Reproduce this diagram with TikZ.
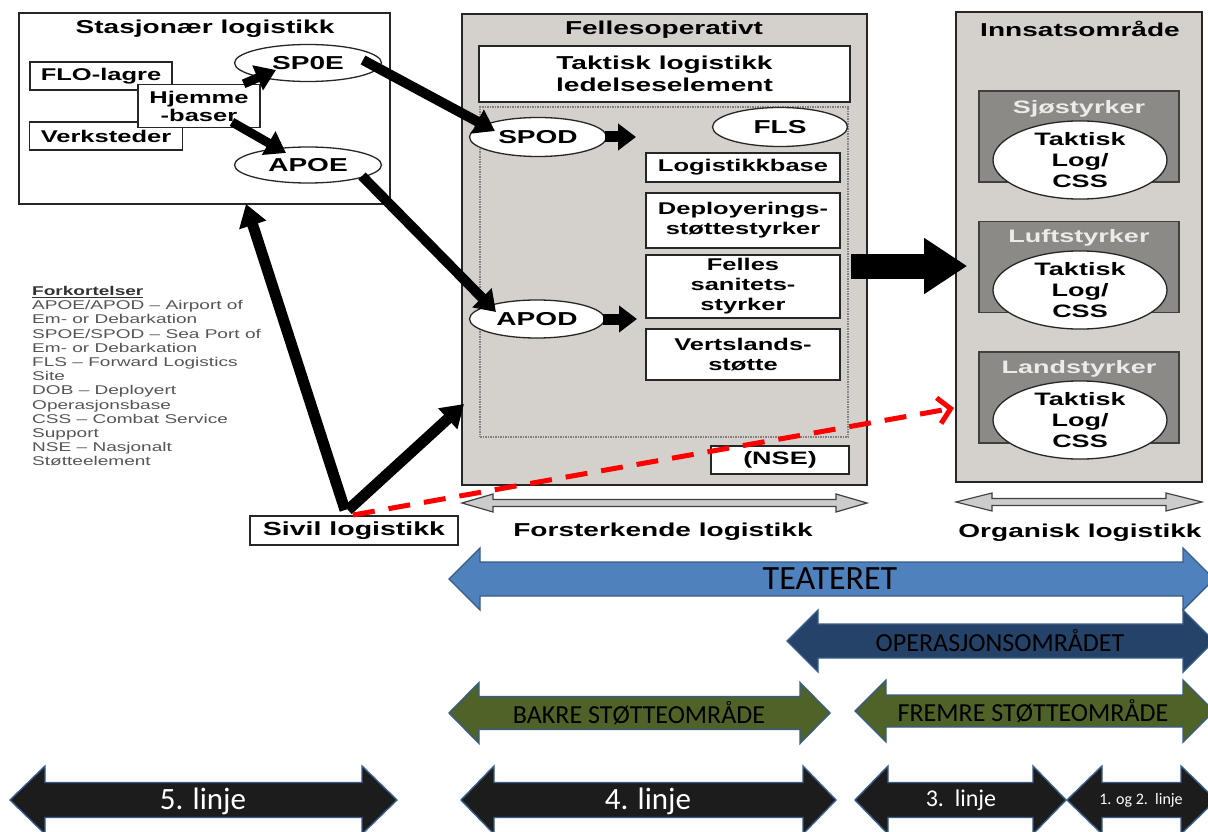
\documentclass[tikz,border=0pt]{standalone}
\usepackage{fontspec}
\setmainfont[FakeStretch=1.5]{Liberation Sans}
\newfontfamily\calibri{Carlito}
\usetikzlibrary{arrows.meta,positioning,shapes.geometric}

\definecolor{panelgray}{HTML}{D4D1CC}
\definecolor{forcegray}{HTML}{8C8A87}
\definecolor{teaterblue}{HTML}{4F81BD}
\definecolor{edgeblue}{HTML}{385D8A}
\definecolor{opnavy}{HTML}{254369}
\definecolor{olivegreen}{HTML}{4F6228}
\definecolor{lineblack}{HTML}{1C1C1C}
\definecolor{legendgray}{HTML}{555555}

% flat double arrow: style, left tip, right tip, y, body half, head half, head length
\newcommand{\bandshape}[7]{%
  \draw[#1] (#2,#4) -- ({#2+#7},{#4-#6}) -- ({#2+#7},{#4-#5}) -- ({#3-#7},{#4-#5})
    -- ({#3-#7},{#4-#6}) -- (#3,#4) -- ({#3-#7},{#4+#6}) -- ({#3-#7},{#4+#5})
    -- ({#2+#7},{#4+#5}) -- ({#2+#7},{#4+#6}) -- cycle;}

\tikzset{
  panel/.style={draw=black!85, line width=1.6pt, inner sep=0pt},
  whitebox/.style={draw=black!85, line width=1.3pt, fill=white, inner sep=0pt, align=center,
    font=\bfseries\fontsize{17}{20}\selectfont},
  port/.style={ellipse, draw=black!85, line width=1.3pt, fill=white, inner sep=0pt,
    font=\bfseries\fontsize{18.7}{21}\selectfont},
  title/.style={inner sep=0pt, font=\bfseries\fontsize{18.7}{22}\selectfont},
  forcebox/.style={draw=black!75, line width=1.3pt, fill=forcegray, inner sep=0pt,
    minimum width=200pt, minimum height=91pt},
  forcetitle/.style={inner sep=0pt, text=black!8, font=\bfseries\fontsize{18}{21}\selectfont},
  tacell/.style={port, minimum width=174pt, minimum height=64pt, align=center,
    font=\bfseries\fontsize{18}{21}\selectfont},
  fat/.style={line width=10pt, -{Triangle[length=20pt,width=26pt]}},
  band/.style={draw=edgeblue, line width=1.4pt},
  grayband/.style={draw=black!75, line width=1.2pt, fill=black!20},
  bandtxt/.style={inner sep=0pt, font=\calibri}
}

\begin{document}
\begin{tikzpicture}[x=1pt,y=-1pt]
  \fill[white] (0,0) rectangle (1208,832);
  \useasboundingbox (0,0) rectangle (1208,832);

  % Stasjonaer logistikk
  \node[panel, fill=white, minimum width=371pt, minimum height=191pt] (stasj) at (204.5,108.5) {};
  \node[title] (stasjT) at (205,29) {Stasjonær logistikk};
  \node[whitebox, minimum width=142pt, minimum height=28pt] (flo) at (101,76) {FLO-lagre};
  \node[whitebox, minimum width=153pt, minimum height=28pt] (verk) at (106,136) {Verksteder};
  \node[whitebox, minimum width=122pt, minimum height=43pt, font=\bfseries\fontsize{17}{18}\selectfont] (hjem) at (199,106) {Hjemme\\-baser};
  \node[port, minimum width=147pt, minimum height=37pt] (spoe) at (308,63) {SP0E};
  \node[port, minimum width=147pt, minimum height=36pt] (apoe) at (308,165) {APOE};

  % Fellesoperativt
  \node[panel, fill=panelgray, minimum width=405pt, minimum height=471pt] (felles) at (664.5,249.5) {};
  \node[title] (fellesT) at (664,30) {Fellesoperativt};
  \node[whitebox, minimum width=371pt, minimum height=56pt, font=\bfseries\fontsize{18.7}{22}\selectfont] (tlle) at (664.5,74) {Taktisk logistikk\\ledelseselement};
  \node[draw=black!50, densely dotted, line width=1.5pt, inner sep=0pt,
        minimum width=368pt, minimum height=330pt] (tacarea) at (664,272) {};
  \node[port, minimum width=137pt, minimum height=39pt] (spod) at (538,137) {SPOD};
  \node[port, minimum width=135pt, minimum height=39pt] (fls) at (780,127) {FLS};
  \node[whitebox, minimum width=194pt, minimum height=29pt] (lbase) at (743,167.5) {Logistikkbase};
  \node[whitebox, minimum width=194pt, minimum height=55pt] (deploy) at (743,220.5) {Deployerings-\\støttestyrker};
  \node[whitebox, minimum width=194pt, minimum height=63pt] (sanitet) at (743,286.5) {Felles\\sanitets-\\styrker};
  \node[whitebox, minimum width=194pt, minimum height=51pt] (vert) at (743,354.5) {Vertslands-\\støtte};
  \node[port, minimum width=135pt, minimum height=38pt] (apod) at (537,319) {APOD};
  \node[whitebox, minimum width=138pt, minimum height=28pt, font=\bfseries\fontsize{18}{20}\selectfont] (nse) at (780,460) {(NSE)};

  % Innsatsomraade
  \node[panel, fill=panelgray, minimum width=246pt, minimum height=470pt] (innsats) at (1079,247) {};
  \node[title] (innsatsT) at (1080,29) {Innsatsområde};
  \node[forcebox] (sjo) at (1079,136.5) {};
  \node[forcetitle] (sjoT) at ([yshift=-18pt]sjo.north) {Sjøstyrker};
  \node[tacell] (sjoLog) at (1080,160) {Taktisk\\Log/\\CSS};
  \node[forcebox] (luft) at (1079,267) {};
  \node[forcetitle] (luftT) at ([yshift=-17pt]luft.north) {Luftstyrker};
  \node[tacell] (luftLog) at (1080,290) {Taktisk\\Log/\\CSS};
  \node[forcebox] (land) at (1079,397.5) {};
  \node[forcetitle] (landT) at ([yshift=-17pt]land.north) {Landstyrker};
  \node[tacell] (landLog) at (1080,420) {Taktisk\\Log/\\CSS};

  % grey spans and captions
  \bandshape{grayband}{462}{867}{503}{3.5}{9}{31}
  \bandshape{grayband}{956}{1202}{502}{3.5}{9}{36}
  \node[title] (forst) at (663,532) {Forsterkende logistikk};
  \node[title] (organisk) at (1080,533) {Organisk logistikk};

  \node[whitebox, minimum width=208pt, minimum height=29pt, font=\bfseries\fontsize{19}{21}\selectfont] (sivil) at (354,530.5) {Sivil logistikk};

  % legend
  \node[anchor=north west, inner sep=0pt, align=left, text=legendgray,
        font=\fontsize{12.7}{14.2}\selectfont] (legend) at (32,286)
    {\textcolor{black!80}{\underline{\textbf{Forkortelser}}}\\
     APOE/APOD – Airport of\\
     Em- or Debarkation\\
     SPOE/SPOD – Sea Port of\\
     Em- or Debarkation\\
     FLS – Forward Logistics\\
     Site\\
     DOB – Deployert\\
     Operasjonsbase\\
     CSS – Combat Service\\
     Support\\
     NSE – Nasjonalt\\
     Støtteelement};

  % flows
  \coordinate (spoeIn) at (276,70);
  \coordinate (apoeIn) at (286,153);
  \coordinate (spodIn) at (495,131);
  \coordinate (apodIn) at (496,312);
  \coordinate (fellesIn) at (464,404);
  \coordinate (stasjIn) at (246,204);
  \coordinate (landIn) at (954,408);
  \coordinate (sivilOut) at (345,510);
  \draw[fat, line width=9pt] ([xshift=-17pt]hjem.north east) -- (spoeIn);
  \draw[fat, line width=9pt] ([xshift=33pt,yshift=-16pt]hjem.center) -- (apoeIn);
  \draw[fat] ([xshift=55pt,yshift=3pt]spoe.center) -- (spodIn);
  \draw[fat] ([xshift=54pt,yshift=-11pt]apoe.center) -- (apodIn);
  \draw[line width=11pt, -{Triangle[length=18pt,width=26pt]}] ([xshift=-2pt]spod.east) -- ([xshift=98pt]spod.center);
  \draw[line width=11pt, -{Triangle[length=18pt,width=26pt]}] ([xshift=-2pt]apod.east) -- ([xshift=100pt]apod.center);
  \draw[line width=25pt, -{Triangle[length=43pt,width=53pt]}] ([xshift=-17pt,yshift=-16.5pt]felles.east) -- ([xshift=12pt,yshift=-19pt]innsats.west);
  \draw[line width=11pt, -{Triangle[length=22pt,width=27pt]}] (sivilOut) -- (stasjIn);
  \draw[line width=11pt, -{Triangle[length=22pt,width=27pt]}] ([xshift=3pt]sivilOut) -- (fellesIn);
  \draw[red, line width=5pt, dash pattern=on 22pt off 14pt, -{Straight Barb[length=12pt,width=26pt]}]
    ([xshift=8pt,yshift=-5pt]sivilOut) -- (landIn);

  % theatre bands
  \bandshape{band, fill=teaterblue}{449}{1214}{579}{17}{31}{31}
  \node[bandtxt, font=\calibri\fontsize{34}{34}\selectfont] (teater) at (830,579) {TEATERET};
  \bandshape{band, fill=opnavy}{787}{1214}{641}{17}{31}{31}
  \node[bandtxt, font=\calibri\fontsize{26}{26}\selectfont] (opsomr) at (1000,641) {OPERASJONSOMRÅDET};
  \bandshape{band, fill=olivegreen}{449}{830}{713}{16.5}{30.5}{30}
  \node[bandtxt, font=\calibri\fontsize{26}{26}\selectfont] (bakre) at (639,713) {BAKRE STØTTEOMRÅDE};
  \bandshape{band, fill=olivegreen}{855}{1214}{711}{16}{31}{31}
  \node[bandtxt, font=\calibri\fontsize{26}{26}\selectfont] (fremre) at (1033,711) {FREMRE STØTTEOMRÅDE};

  % lines
  \bandshape{band, fill=lineblack}{10}{397}{800}{17.5}{34}{35}
  \node[bandtxt, text=white, font=\calibri\fontsize{31}{31}\selectfont] (linje5) at (203,801) {5. linje};
  \bandshape{band, fill=lineblack}{461}{836}{800}{17.5}{34}{33}
  \node[bandtxt, text=white, font=\calibri\fontsize{31}{31}\selectfont] (linje4) at (648,801) {4. linje};
  \bandshape{band, fill=lineblack}{855}{1066}{800}{17.5}{34}{33}
  \node[bandtxt, text=white, font=\calibri\fontsize{24}{24}\selectfont] (linje3) at (961,800) {3.\ \ linje};
  \bandshape{band, fill=lineblack}{1067}{1216}{800}{17.5}{34}{35}
  \node[bandtxt, text=white, font=\calibri\fontsize{16}{16}\selectfont] (linje12) at (1141,800) {1. og 2.\ \ linje};
\end{tikzpicture}
\end{document}
